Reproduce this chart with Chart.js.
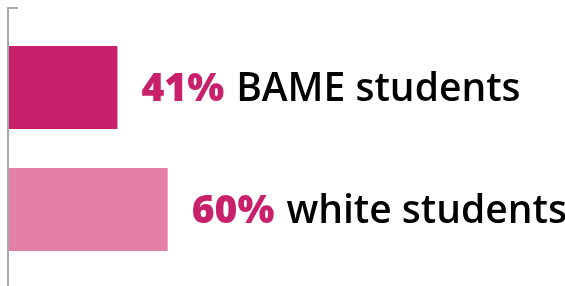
<!DOCTYPE html>
<html>
<head>
<meta charset="utf-8">
<script src="https://cdn.jsdelivr.net/npm/chart.js@4"></script>
<style>
  html, body { margin: 0; padding: 0; background: #fff; }
  #wrap { width: 565px; height: 286px; }
</style>
</head>
<body>
<div id="wrap"><canvas id="graph"></canvas></div>
<script>
const groups = ['BAME students', 'white students']
const shares = [41, 60]
const barColors = ['#C8206A', '#E47FA8']

// percent + label written just past the end of each bar
const labelPlugin = {
    id: 'barLabels',
    afterDatasetsDraw(chart) {
        const ctx = chart.ctx
        const meta = chart.getDatasetMeta(0)
        ctx.save()
        meta.data.forEach(function(bar, i) {
            let x = bar.x + 24
            let y = bar.y + 13
            ctx.textBaseline = 'alphabetic'
            ctx.textAlign = 'left'
            ctx.font = '800 39px "Open Sans"'
            ctx.fillStyle = '#C8206A'
            let pct = shares[i] + '%'
            ctx.fillText(pct, x, y)
            x += ctx.measureText(pct).width + 12
            ctx.font = '600 39px "Open Sans"'
            ctx.fillStyle = '#000'
            ctx.fillText(groups[i], x, y)
        })
        ctx.restore()
    }
}

// grey axis line with the small top tick
const axisPlugin = {
    id: 'axisLine',
    beforeDatasetsDraw(chart) {
        const ctx = chart.ctx
        const left = chart.chartArea.left - 1
        ctx.save()
        ctx.strokeStyle = '#A7A9AC'
        ctx.lineWidth = 2
        ctx.beginPath()
        ctx.moveTo(left + 10, 8)
        ctx.lineTo(left, 8)
        ctx.lineTo(left, chart.height)
        ctx.stroke()
        ctx.restore()
    }
}

document.addEventListener("DOMContentLoaded", function() {
    let context = document.querySelector("#graph").getContext('2d')
    new Chart(context, {
        type: 'bar',
        data: {
            labels: groups,
            datasets: [{
                data: shares,
                backgroundColor: barColors,
                borderWidth: 0,
                barPercentage: 0.68,
                categoryPercentage: 1,
            }],
        },
        options: {
            indexAxis: 'y',
            responsive: true,
            maintainAspectRatio: false,
            animation: false,
            layout: {
                padding: {left: 9, right: 291.5, top: 26.5, bottom: 15.5},
            },
            plugins: {
                legend: {display: false},
                tooltip: {enabled: false},
            },
            scales: {
                x: {
                    display: false,
                    min: 0,
                    max: 100,
                },
                y: {
                    display: false,
                },
            },
        },
        plugins: [axisPlugin, labelPlugin],
    })
})
</script>
</body>
</html>
